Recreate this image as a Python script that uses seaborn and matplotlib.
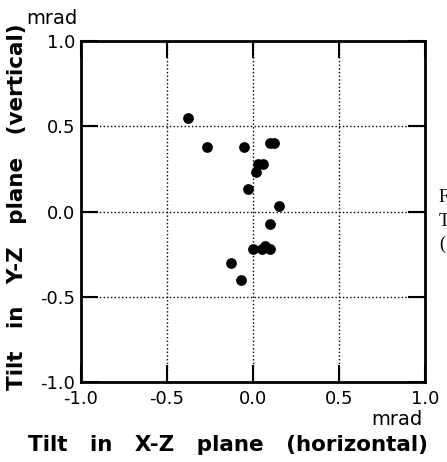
import pandas as pd
import matplotlib
matplotlib.use('Agg')
import matplotlib.pyplot as plt
import seaborn as sns

# ========== dados ==========
tilt_xz = [-0.38, -0.27, -0.05, 0.10, 0.12, 0.03, 0.06, 0.02, -0.03, 0.15,
           0.10, 0.00, 0.05, 0.07, 0.10, -0.13, -0.07]
tilt_yz = [0.55, 0.38, 0.38, 0.40, 0.40, 0.28, 0.28, 0.23, 0.13, 0.03,
           -0.07, -0.22, -0.22, -0.20, -0.22, -0.30, -0.40]
ticks = [-1.0, -0.5, 0.0, 0.5, 1.0]

df = pd.DataFrame({'x': tilt_xz, 'y': tilt_yz})

sns.set_style('ticks')
plt.rcParams['font.family'] = ['DejaVu Sans']
plt.rcParams['text.color'] = 'black'
plt.rcParams['xtick.color'] = 'black'
plt.rcParams['ytick.color'] = 'black'
plt.rcParams['axes.edgecolor'] = 'black'

fig = plt.figure(figsize=(4.47, 4.62), dpi=100)
ax = fig.add_axes([0.181, 0.173, 0.770, 0.738])

sns.scatterplot(data=df, x='x', y='y', ax=ax, s=60, color='black',
                edgecolor='black', linewidth=0, zorder=3)

ax.set_xlim(-1, 1)
ax.set_ylim(-1, 1)
ax.set_xticks(ticks)
ax.set_yticks(ticks)
ax.set_xticklabels([f'{t:.1f}' for t in ticks], fontsize=13)
ax.set_yticklabels([f'{t:.1f}' for t in ticks], fontsize=13)
ax.tick_params(direction='in', length=12, width=1.5, top=True, right=True,
               color='black', labelcolor='black')
ax.tick_params(axis='x', pad=6)
ax.tick_params(axis='y', pad=4)
ax.grid(True, linestyle=':', color='black', linewidth=1)
for sp in ax.spines.values():
    sp.set_linewidth(2)
    sp.set_color('black')

ax.set_xlabel('')
ax.set_ylabel('')
fig.text(0.038, 0.552, 'Tilt   in   Y-Z   plane   (vertical)', rotation=90,
         ha='center', va='center', fontsize=15.5, fontweight='bold')
fig.text(0.51, 0.037, 'Tilt   in   X-Z   plane   (horizontal)',
         ha='center', va='center', fontsize=15.5, fontweight='bold')
fig.text(0.116, 0.959, 'mrad', ha='center', va='center', fontsize=14)
fig.text(0.888, 0.091, 'mrad', ha='center', va='center', fontsize=14)

# fragmentos da legenda cortada à direita
for yy, ch in [(0.573, 'F'), (0.521, 'T'), (0.472, '(')]:
    fig.text(0.982, yy, ch, ha='left', va='center', fontsize=13,
             family=['Liberation Serif', 'DejaVu Serif'])

fig.savefig('out.png', dpi=100)
